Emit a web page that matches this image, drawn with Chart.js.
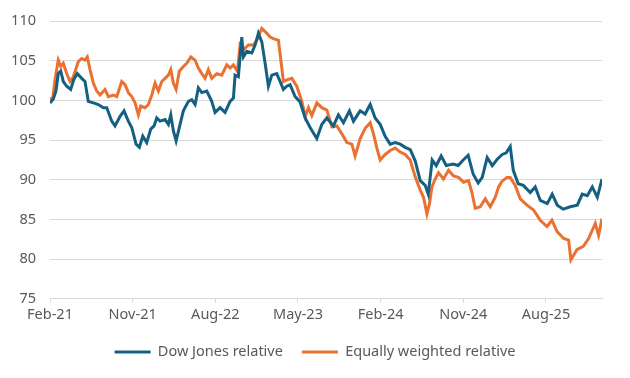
<!DOCTYPE html>
<html>
<head>
<meta charset="utf-8">
<script src="https://cdn.jsdelivr.net/npm/chart.js@4.4.1/dist/chart.umd.min.js"></script>
<style>
  html, body { margin: 0; padding: 0; background: #fff; }
  #wrap { width: 630px; height: 378px; position: relative; }
</style>
</head>
<body>
<div id="wrap"><canvas id="relChart"></canvas></div>
<script>
// months since Feb-21
const dowMonths = [0, 0.36, 0.65, 0.90, 1.17, 1.45, 1.82, 2.25, 2.61, 2.97, 3.45, 3.81, 4.17, 4.72, 5.26, 5.81, 6.18, 6.72, 7.08, 7.63,
    8.06, 8.53, 8.90, 9.37, 9.73, 10.10, 10.53, 10.97, 11.33, 11.62, 11.98, 12.53, 12.89, 13.15, 13.43, 13.73, 14.16, 14.52, 15.07, 15.44,
    15.80, 16.15, 16.53, 17.07, 17.61, 17.97, 18.52, 19.06, 19.61, 19.97, 20.15, 20.51, 20.88, 21.06, 21.43, 21.97, 22.33, 22.69, 23.06, 23.42,
    23.78, 24.15, 24.69, 25.05, 25.41, 25.78, 26.14, 26.69, 27.23, 27.78, 28.32, 29.05, 29.60, 30.14, 30.86, 31.40, 31.95, 32.60, 33.04, 33.77,
    34.31, 34.86, 35.40, 35.95, 36.49, 37.04, 37.58, 38.13, 38.67, 39.22, 39.76, 40.31, 40.85, 41.18, 41.61, 42.05, 42.59, 43.14, 43.90, 44.44,
    44.99, 45.53, 46.08, 46.62, 47.06, 47.60, 48.15, 48.69, 49.24, 49.67, 50.11, 50.44, 50.98, 51.53, 52.29, 52.83, 53.38, 54.14, 54.68, 55.23,
    55.88, 56.64, 57.41, 57.95, 58.50, 59.04, 59.59, 60.10];
const dowValues = [99.7, 100.2, 101.2, 103.4, 103.7, 102.4, 101.8, 101.4, 102.7, 103.4, 102.8, 102.4, 99.9, 99.7, 99.5, 99.1, 99.1, 97.4, 96.8, 98.0,
    98.7, 97.4, 96.6, 94.5, 94.1, 95.5, 94.7, 96.4, 96.8, 97.8, 97.4, 97.6, 97.0, 98.2, 96.2, 94.9, 97.0, 98.7, 99.9, 100.1,
    99.5, 101.6, 101.0, 101.2, 99.9, 98.5, 99.1, 98.5, 99.9, 100.3, 103.2, 103.0, 108.0, 105.5, 106.2, 106.0, 107.0, 108.5, 107.4, 104.7,
    101.8, 103.2, 103.4, 102.4, 101.4, 101.8, 102.0, 100.5, 99.8, 97.8, 96.6, 95.2, 97.0, 97.8, 96.8, 98.2, 97.2, 98.7, 97.4, 98.7,
    98.3, 99.5, 97.8, 97.0, 95.5, 94.5, 94.7, 94.5, 94.1, 93.8, 92.4, 89.9, 89.3, 88.2, 92.5, 91.8, 93.0, 91.8, 92.0, 91.8,
    92.5, 93.1, 90.7, 89.6, 90.3, 92.8, 91.8, 92.6, 93.2, 93.4, 94.2, 91.2, 89.5, 89.3, 88.4, 89.1, 87.4, 87.0, 88.2, 86.8,
    86.3, 86.6, 86.8, 88.2, 88.0, 89.1, 87.8, 90.1];

const ewMonths = [0, 0.29, 0.54, 0.90, 1.17, 1.45, 1.82, 2.18, 2.54, 3.08, 3.45, 3.81, 4.06, 4.36, 4.72, 5.09, 5.45, 5.99, 6.35, 6.90,
    7.27, 7.81, 8.17, 8.53, 8.90, 9.26, 9.62, 9.88, 10.35, 10.71, 11.08, 11.44, 11.80, 12.17, 12.53, 12.89, 13.15, 13.43, 13.73, 14.08,
    14.52, 14.89, 15.33, 15.80, 16.15, 16.53, 16.88, 17.24, 17.61, 18.16, 18.70, 19.25, 19.61, 19.97, 20.40, 20.70, 21.06, 21.60, 22.15, 22.52,
    23.06, 23.42, 23.97, 24.32, 24.87, 25.24, 25.41, 25.78, 26.33, 26.87, 27.42, 27.78, 28.14, 28.51, 29.05, 29.60, 30.14, 30.69, 31.23, 31.78,
    32.32, 32.87, 33.22, 33.77, 34.31, 34.86, 35.22, 35.59, 35.95, 36.49, 37.04, 37.58, 38.13, 38.67, 39.22, 39.76, 40.31, 40.67, 41.04, 41.32,
    41.58, 41.94, 42.30, 42.84, 43.39, 43.93, 44.48, 45.02, 45.57, 45.94, 46.30, 46.84, 47.39, 47.93, 48.48, 48.84, 49.20, 49.75, 50.11, 50.65,
    51.20, 51.93, 52.65, 53.38, 54.11, 54.65, 55.19, 55.92, 56.46, 56.72, 57.37, 58.06, 58.64, 59.37, 59.73, 60.10];
const ewValues = [100.3, 100.2, 102.6, 105.1, 104.3, 104.7, 103.4, 102.4, 103.0, 104.9, 105.3, 105.1, 105.5, 103.9, 102.2, 101.2, 100.7, 101.4, 100.5, 100.7,
    100.5, 102.4, 102.0, 101.0, 100.5, 99.7, 98.2, 99.3, 99.1, 99.5, 100.7, 102.2, 101.2, 102.4, 102.8, 103.2, 103.9, 102.2, 101.4, 103.7,
    104.3, 104.7, 105.5, 105.1, 104.1, 103.4, 102.8, 103.9, 102.8, 103.4, 103.2, 104.5, 104.1, 104.5, 103.7, 107.0, 106.4, 107.0, 107.0, 107.6,
    109.1, 108.7, 108.0, 107.8, 107.6, 104.1, 102.4, 102.6, 102.8, 101.8, 99.9, 98.0, 99.1, 98.1, 99.7, 99.1, 98.8, 96.7, 96.8, 95.8,
    94.7, 94.5, 93.0, 95.2, 96.5, 97.2, 95.8, 94.0, 92.5, 93.2, 93.7, 94.0, 93.5, 93.2, 92.5, 90.4, 88.7, 87.8, 85.7, 87.0,
    89.1, 90.1, 90.9, 90.1, 91.2, 90.5, 90.3, 89.7, 89.9, 88.4, 86.4, 86.6, 87.6, 86.6, 87.8, 89.1, 89.8, 90.3, 90.3, 89.3,
    87.6, 86.8, 86.2, 84.9, 84.1, 84.9, 83.5, 82.6, 82.4, 79.9, 81.2, 81.6, 82.6, 84.5, 83.0, 85.1];

const xTickMonths = [0, 9, 18, 27, 36, 45, 54];
const xTickLabels = ['Feb-21', 'Nov-21', 'Aug-22', 'May-23', 'Feb-24', 'Nov-24', 'Aug-25'];

const seriesNames = ['Dow Jones relative', 'Equally weighted relative'];
const seriesColors = ['#156082', '#E97132'];

const toPoints = (xs, ys) => xs.map((x, i) => ({ x: x, y: ys[i] }));

const textColor = '#595959';
Chart.defaults.font.family = '"Noto Sans", "Open Sans", sans-serif';
Chart.defaults.font.size = 14.5;
Chart.defaults.color = textColor;

new Chart(document.getElementById('relChart'), {
    type: 'line',
    data: {
        datasets: [
            {
                label: seriesNames[0],
                data: toPoints(dowMonths, dowValues),
                borderColor: seriesColors[0],
                backgroundColor: seriesColors[0],
                borderWidth: 3,
                pointRadius: 0,
                tension: 0
            },
            {
                label: seriesNames[1],
                data: toPoints(ewMonths, ewValues),
                borderColor: seriesColors[1],
                backgroundColor: seriesColors[1],
                borderWidth: 3,
                pointRadius: 0,
                tension: 0
            }
        ]
    },
    options: {
        responsive: true,
        maintainAspectRatio: false,
        animation: false,
        layout: { padding: { top: 6, right: 0, left: 0, bottom: 8.75 } },
        scales: {
            x: {
                type: 'linear',
                min: 0,
                max: 60.1,
                afterBuildTicks: (scale) => {
                    scale.ticks = xTickMonths.map(v => ({ value: v }));
                },
                ticks: {
                    autoSkip: false,
                    maxRotation: 0,
                    padding: 3,
                    callback: (value) => {
                        const i = xTickMonths.indexOf(value);
                        return i >= 0 ? xTickLabels[i] : '';
                    }
                },
                grid: { drawOnChartArea: false, drawTicks: true, tickLength: 4, color: '#d9d9d9' },
                border: { display: true, color: '#d9d9d9', width: 1 },
                afterFit: (scale) => { scale.height = 27; }
            },
            y: {
                min: 75,
                max: 110,
                ticks: { stepSize: 5, padding: 14, font: { lineHeight: 1 } },
                grid: { color: '#d9d9d9', drawTicks: false },
                border: { display: false },
                afterFit: (scale) => { scale.width = 50; }
            },
            // empty right-hand spacer so the plot stops short of the edge
            yRight: {
                position: 'right',
                display: true,
                ticks: { display: false },
                grid: { display: false, drawTicks: false },
                border: { display: false },
                afterFit: (scale) => { scale.width = 28; }
            }
        },
        plugins: {
            legend: {
                position: 'bottom',
                labels: {
                    boxWidth: 36,
                    boxHeight: 3,
                    padding: 19,
                    color: textColor,
                    // thin line swatches, no outline stroke
                    generateLabels: (chart) => Chart.defaults.plugins.legend.labels.generateLabels(chart)
                        .map(item => Object.assign(item, { lineWidth: 0 }))
                }
            },
            tooltip: { enabled: false }
        }
    }
});
</script>
</body>
</html>
